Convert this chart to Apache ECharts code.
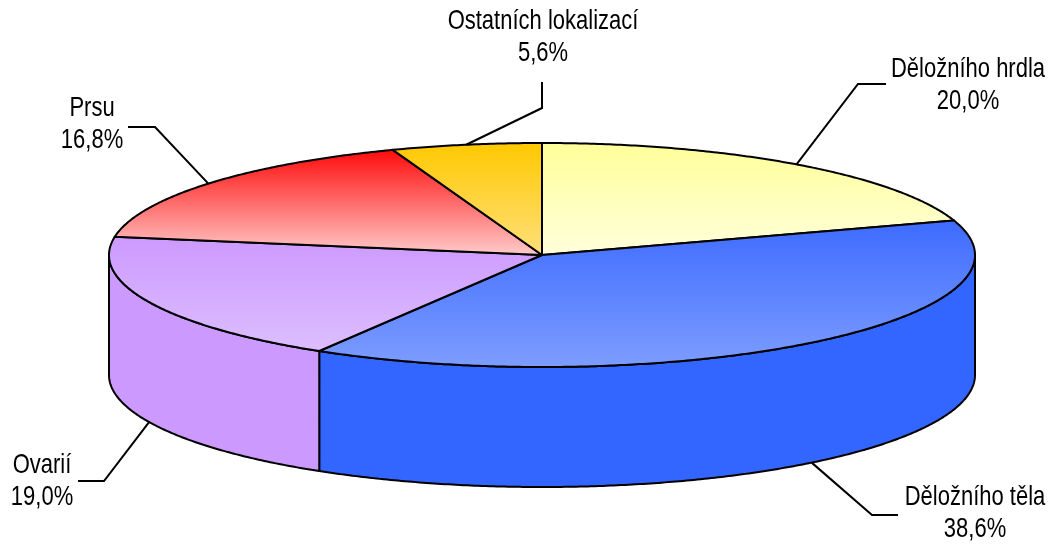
<!DOCTYPE html>
<html>
<head>
<meta charset="utf-8">
<script src="https://cdn.jsdelivr.net/npm/echarts@6/dist/echarts.min.js"></script>
<style>
html,body{margin:0;padding:0;background:#fff;}
#chart{width:1054px;height:546px;}
</style>
</head>
<body>
<div id="chart"></div>
<script>
// ---- data ----
const categories = ['Děložního hrdla', 'Děložního těla', 'Ovarií', 'Prsu', 'Ostatních lokalizací'];
const values = [20.0, 38.6, 19.0, 16.8, 5.6];

// ---- styles ----
const topColors = [
  ['#FFFF99', '#FFFFDC'],
  ['#3D6BFF', '#7D9DFF'],
  ['#CC99FF', '#DDBEFF'],
  ['#FF0A0A', '#FFCCCC'],
  ['#FFC800', '#FFE07C']
];
const sideColors = ['#FFFF99', '#3366FF', '#CC99FF', '#FF9999', '#FFCC00'];
// label layout: text block centre, elbow point, leader end
const labelPos = [[968, 86], [975, 514], [42, 482], [92, 125], [543, 38]];
const elbowPos = [[858, 84], [872, 515], [104, 481], [155, 127], [542, 108]];
const lineEnd  = [[886, 84], [898, 515], [78, 481], [128, 127], [542, 82]];

const CX = 542, CY = 255, RX = 433, RY = 112, DEPTH = 120;
const FONT = '22px "Liberation Sans", Arial, sans-serif';
const TEXT_SCALE_Y = 1.22;

const chart = echarts.init(document.getElementById('chart'));

function renderItem(params, api) {
  const i = params.dataIndex;
  const v = api.value(0);
  const total = values.reduce((a, b) => a + b, 0);
  let start = 0;
  for (let j = 0; j < i; j++) start += values[j];
  const a0 = start / total * Math.PI * 2;
  const a1 = (start + v) / total * Math.PI * 2;
  const pt = (t, dy) => [CX + RX * Math.sin(t), CY - RY * Math.cos(t) + (dy || 0)];
  const arc = (s, e, dy) => {
    const n = Math.max(2, Math.ceil((e - s) / (Math.PI / 360)));
    const out = [];
    for (let k = 0; k <= n; k++) out.push(pt(s + (e - s) * k / n, dy));
    return out;
  };
  const children = [];
  // side wall (front half only)
  const s = Math.max(a0, Math.PI / 2), e = Math.min(a1, Math.PI * 1.5);
  if (s < e) {
    const pts = arc(s, e, 0).concat(arc(s, e, DEPTH).reverse());
    children.push({
      type: 'polygon', z2: 1,
      shape: { points: pts },
      style: { fill: sideColors[i], stroke: '#000', lineWidth: 2, lineJoin: 'round' }
    });
  }
  // top face
  const topPts = [[CX, CY]].concat(arc(a0, a1, 0));
  children.push({
    type: 'polygon', z2: 2,
    shape: { points: topPts },
    style: {
      fill: new echarts.graphic.LinearGradient(0, 0, 0, 1, [
        { offset: 0, color: topColors[i][0] },
        { offset: 1, color: topColors[i][1] }
      ]),
      stroke: '#000', lineWidth: 2, lineJoin: 'round'
    }
  });
  // leader line
  const mid = (a0 + a1) / 2;
  const anchor = pt(mid, Math.cos(mid) < 0 ? DEPTH : 0);
  children.push({
    type: 'polyline', z2: 3,
    shape: { points: [anchor, elbowPos[i], lineEnd[i]] },
    style: { stroke: '#000', lineWidth: 2, fill: null }
  });
  // label
  children.push({
    type: 'text', z2: 4,
    x: labelPos[i][0], y: labelPos[i][1],
    scaleY: TEXT_SCALE_Y,
    style: {
      text: categories[i] + '\n' + v.toFixed(1).replace('.', ',') + '%',
      x: 0, y: 0,
      align: 'center', verticalAlign: 'middle',
      font: FONT, lineHeight: 32 / TEXT_SCALE_Y, fill: '#000'
    }
  });
  return { type: 'group', children };
}

chart.setOption({
  animation: false,
  backgroundColor: '#fff',
  series: [{
    type: 'custom',
    coordinateSystem: 'none',
    silent: true,
    renderItem: renderItem,
    data: values.map((v, i) => ({ name: categories[i], value: [v] }))
  }]
});
</script>
</body>
</html>
